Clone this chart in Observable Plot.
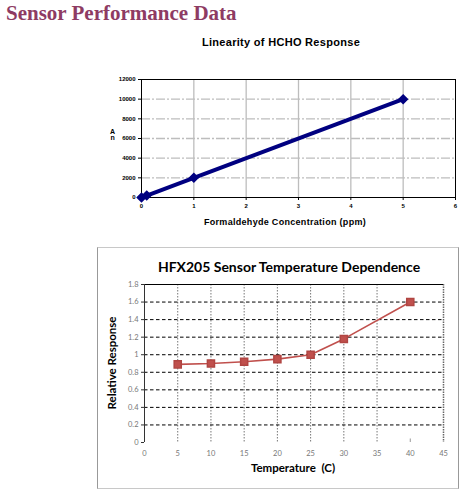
<!DOCTYPE html>
<html>
<head>
<meta charset="utf-8">
<script src="https://cdn.jsdelivr.net/npm/d3@7"></script>
<script src="https://cdn.jsdelivr.net/npm/@observablehq/plot@0.6"></script>
<style>
  body { margin: 0; background: white; }
  #page { position: relative; width: 475px; height: 496px; overflow: hidden; }
  .abs { position: absolute; white-space: nowrap; }
  #heading { left: 6px; top: 1px; font: bold 21px "Liberation Serif", serif; color: #8e3b63; }
  #t1 { left: 0; width: 562px; top: 36px; text-align: center; font: bold 11px "Liberation Sans", Arial, sans-serif; letter-spacing: 0.3px; }
  #x1 { left: 0; width: 570px; top: 217px; text-align: center; font: bold 9px "Liberation Sans", Arial, sans-serif; letter-spacing: 0.3px; }
  #y1 { left: 110px; top: 129px; font: bold 7px "Liberation Sans", Arial, sans-serif; line-height: 6px; text-align: center; }
  #box { left: 97px; top: 247px; width: 360px; height: 240px; border: 1px solid #c8c8c8; border-left-color: #999; border-right-color: #999; }
  #t2 { left: 0; width: 578px; top: 258px; text-align: center; font: bold 14px Lato, sans-serif; }
  #x2 { left: 0; width: 586px; top: 461px; text-align: center; font: bold 11.5px Lato, sans-serif; }
  #y2 { left: 111px; top: 363px; transform: translate(-50%, -50%) rotate(-90deg); font: bold 11.5px Lato, sans-serif; }
  .plot { position: absolute; left: 0; }
</style>
</head>
<body>
<div id="page">
  <div id="box" class="abs"></div>
  <div id="p1" class="plot" style="top:0"></div>
  <div id="p2" class="plot" style="top:240px"></div>
  <div id="heading" class="abs">Sensor Performance Data</div>
  <div id="t1" class="abs">Linearity of HCHO Response</div>
  <div id="x1" class="abs">Formaldehyde Concentration (ppm)</div>
  <div id="y1" class="abs">A<br>n</div>
  <div id="t2" class="abs">HFX205 Sensor Temperature Dependence</div>
  <div id="x2" class="abs">Temperature&nbsp;&nbsp;(C)</div>
  <div id="y2" class="abs">Relative Response</div>
</div>
<script>
// HCHO linearity
const hchoPpm = [0, 0.1, 1, 5];
const hchoResponse = [0, 200, 2000, 10000];
const ppmTicks = [0, 1, 2, 3, 4, 5, 6];
const responseTicks = [0, 2000, 4000, 6000, 8000, 10000, 12000];

// temperature dependence
const tempC = [5, 10, 15, 20, 25, 30, 40];
const relResponse = [0.89, 0.90, 0.92, 0.95, 1.00, 1.18, 1.60];
const tempTicks = [0, 5, 10, 15, 20, 25, 30, 35, 40, 45];
const relTicks = [0, 0.2, 0.4, 0.6, 0.8, 1, 1.2, 1.4, 1.6, 1.8];

const hcho = hchoPpm.map((x, i) => ({x, y: hchoResponse[i]}));
const temp = tempC.map((x, i) => ({x, y: relResponse[i]}));

const plot1 = Plot.plot({
  width: 475,
  height: 235,
  marginTop: 79,
  marginBottom: 38,
  marginLeft: 141,
  marginRight: 20,
  style: {fontFamily: "Liberation Sans, Arial, sans-serif", background: "transparent"},
  x: {domain: [0, 6]},
  y: {domain: [0, 12000]},
  marks: [
    Plot.gridX(ppmTicks.slice(1, -1), {stroke: "#bdbdbd", strokeOpacity: 1, strokeWidth: 1.3}),
    Plot.gridY(responseTicks.slice(1, -1), {stroke: "#bdbdbd", strokeOpacity: 1, strokeWidth: 1.3, strokeDasharray: "9,2,2,2"}),
    Plot.frame({stroke: "black"}),
    Plot.axisX(ppmTicks, {tickSize: 3, tickPadding: 3, fontSize: 6, fontWeight: "bold", tickFormat: d => String(d), label: null}),
    Plot.axisY(responseTicks, {tickSize: 3, tickPadding: 3, fontSize: 6, fontWeight: "bold", tickFormat: d => String(d), label: null}),
    Plot.line(hcho, {x: "x", y: "y", stroke: "#000080", strokeWidth: 4}),
    Plot.dot(hcho, {x: "x", y: "y", symbol: "diamond2", r: 3.8, fill: "#000080", stroke: "#000080"})
  ]
});
document.querySelector("#p1").append(plot1);

const plot2 = Plot.plot({
  width: 475,
  height: 256,
  marginTop: 44,
  marginBottom: 54,
  marginLeft: 144,
  marginRight: 32,
  style: {fontFamily: "Lato, sans-serif", background: "transparent"},
  x: {domain: [0, 45]},
  y: {domain: [0, 1.8]},
  marks: [
    Plot.gridX(tempTicks.filter(d => d > 0 && d < 40), {stroke: "#777", strokeOpacity: 1, strokeDasharray: "1.5,1.5"}),
    Plot.ruleX([45], {stroke: "#666", strokeWidth: 1.5, strokeDasharray: "1.5,1"}),
    Plot.ruleX([40], {y1: 0, y2: 0.04, stroke: "#999"}),
    Plot.gridY(relTicks.filter(d => d > 0 && d < 1.8), {stroke: "black", strokeOpacity: 1, strokeDasharray: "3.5,2.5"}),
    Plot.ruleY([1.8], {stroke: "black"}),
    Plot.ruleX([0], {stroke: "#333"}),
    Plot.axisX(tempTicks, {tickSize: 0, tickPadding: 8, fontSize: 7.5, fill: "#777", tickFormat: d => String(d), label: null}),
    Plot.axisY(relTicks, {tickSize: 3, tickPadding: 3, fontSize: 7.5, fill: "#777", stroke: "#333", tickFormat: d => String(d), label: null}),
    Plot.line(temp, {x: "x", y: "y", stroke: "#c0504d", strokeWidth: 1.6}),
    Plot.dot(temp, {x: "x", y: "y", symbol: "square", r: 4, fill: "#c0504d", stroke: "#b04542"})
  ]
});
document.querySelector("#p2").append(plot2);
</script>
</body>
</html>
